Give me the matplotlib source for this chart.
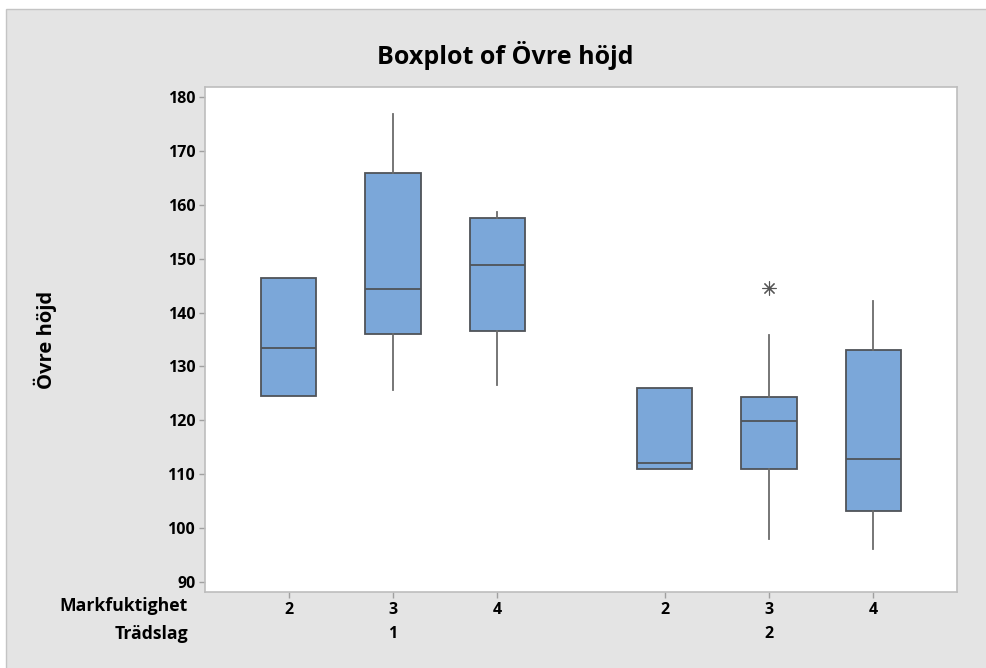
# boxplot of Övre höjd grouped by Trädslag and Markfuktighet
import matplotlib.pyplot as plt
from matplotlib.patches import Rectangle
from matplotlib.transforms import blended_transform_factory

plt.rcParams['font.family'] = ['Open Sans', 'DejaVu Sans']

# groups
markfuktighet = ['2', '3', '4', '2', '3', '4']
tradslag = ['1', '2']
tradslag_center = [1, 4.6]
positions = [0, 1, 2, 3.6, 4.6, 5.6]

# box statistics
q1 = [124.5, 136.0, 136.6, 110.9, 111.0, 103.2]
median = [133.5, 144.3, 148.9, 112.0, 119.9, 112.8]
q3 = [146.5, 166.0, 157.5, 126.0, 124.3, 133.1]
whislo = [124.5, 125.7, 126.6, 110.9, 98.0, 96.1]
whishi = [146.5, 176.8, 158.6, 126.0, 135.9, 142.2]
outliers = [[], [], [], [], [144.5], []]

yticks = [90, 100, 110, 120, 130, 140, 150, 160, 170, 180]

stats = []
for i in range(len(positions)):
    stats.append({'q1': q1[i], 'med': median[i], 'q3': q3[i],
                  'whislo': whislo[i], 'whishi': whishi[i],
                  'fliers': outliers[i]})

fig = plt.figure(figsize=(9.87, 6.68), dpi=100, facecolor='white')
# grey panel behind everything
fig.patches.append(Rectangle((6 / 987, -0.05), 1.1, 0.05 + (668 - 9) / 668, transform=fig.transFigure,
                             facecolor='#e4e4e4', edgecolor='#c4c4c4', linewidth=1, zorder=-10))

ax = fig.add_axes([205 / 987, (668 - 592) / 668, (957 - 205) / 987, (592 - 87) / 668])
ax.set_facecolor('white')

ax.bxp(stats, positions=positions, widths=0.53, patch_artist=True, showcaps=False,
       boxprops=dict(facecolor='#7ba7d9', edgecolor='#4f5358', linewidth=1.3),
       medianprops=dict(color='#4f5358', linewidth=1.3),
       whiskerprops=dict(color='#6b6b6b', linewidth=1.3),
       flierprops=dict(marker=(8, 2, 0), markersize=10, markeredgecolor='#555555',
                       markeredgewidth=0.8))

ax.set_xlim(-0.8, 6.4)
ax.set_ylim(88.1, 181.9)
ax.set_yticks(yticks)
ax.set_xticks(positions)
ax.set_xticklabels(markfuktighet)

for s in ax.spines.values():
    s.set_color('#bdbdbd')
    s.set_linewidth(1.2)

ax.tick_params(axis='both', colors='#a0a0a0', length=4, width=1, labelcolor='black',
               labelsize=11.5)
for lbl in ax.get_xticklabels() + ax.get_yticklabels():
    lbl.set_fontweight('bold')
ax.tick_params(axis='x', pad=3)
ax.tick_params(axis='y', pad=3)

# second level of the x axis
trans = blended_transform_factory(ax.transData, ax.transAxes)
for x, t in zip(tradslag_center, tradslag):
    ax.text(x, -0.083, t, transform=trans, ha='center', va='center',
            fontsize=11.5, fontweight='bold')

fig.text(188 / 987, 1 - 606 / 668, 'Markfuktighet', ha='right', va='center',
         fontsize=12.7, fontweight='bold')
fig.text(188 / 987, 1 - 634 / 668, 'Trädslag', ha='right', va='center',
         fontsize=12.7, fontweight='bold')

fig.text(45 / 987, 1 - 340 / 668, 'Övre höjd', rotation=90, ha='center', va='center',
         fontsize=14.5, fontweight='bold')
fig.text(505 / 987, 1 - 55 / 668, 'Boxplot of Övre höjd', ha='center', va='center',
         fontsize=18, fontweight='bold')

fig.savefig('out.png', dpi=100, facecolor=fig.get_facecolor())
